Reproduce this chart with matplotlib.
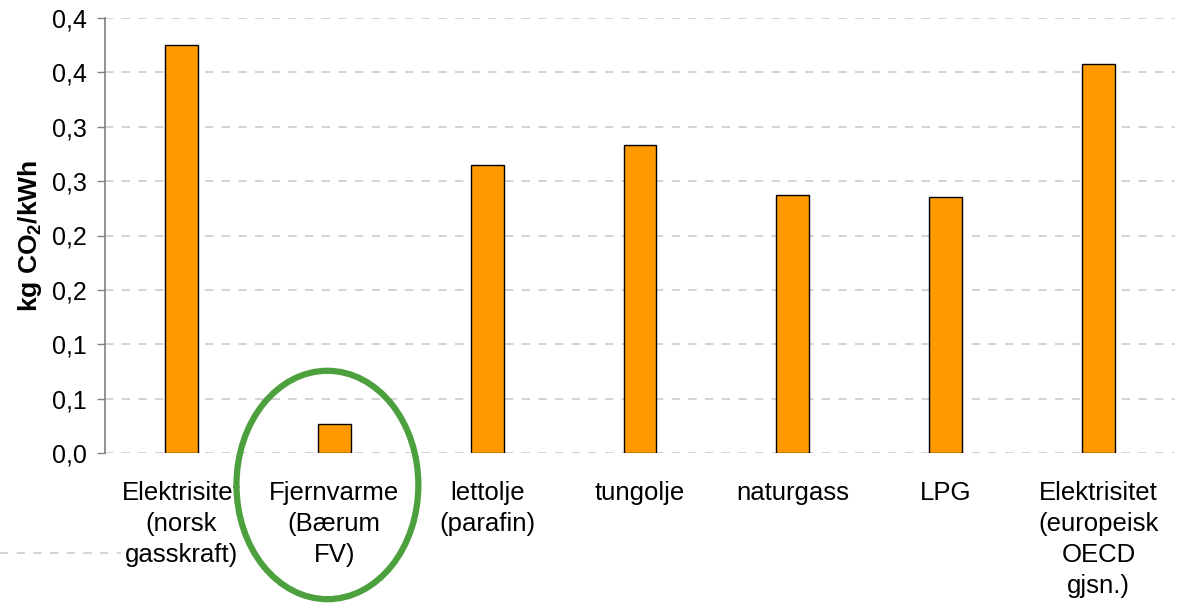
import numpy as np
import matplotlib
matplotlib.use("Agg")
import matplotlib.pyplot as plt
from matplotlib.patches import Ellipse
from matplotlib.lines import Line2D

plt.rcParams['font.family'] = ['Liberation Sans', 'DejaVu Sans']
plt.rcParams['mathtext.fontset'] = 'custom'
plt.rcParams['mathtext.rm'] = 'Liberation Sans'
plt.rcParams['mathtext.bf'] = 'Liberation Sans:bold'

# data
categories = ["Elektrisitet\n(norsk\ngasskraft)", "Fjernvarme\n(Bærum\nFV)",
              "lettolje\n(parafin)", "tungolje", "naturgass", "LPG",
              "Elektrisitet\n(europeisk\nOECD\ngjsn.)"]
values = [0.375, 0.027, 0.265, 0.283, 0.237, 0.235, 0.358]
yticks = [0.0, 0.05, 0.10, 0.15, 0.20, 0.25, 0.30, 0.35, 0.40]
ytick_labels = ["0,0", "0,1", "0,1", "0,2", "0,2", "0,3", "0,3", "0,4", "0,4"]

fig = plt.figure(figsize=(11.79, 6.07), dpi=100)
ax = fig.add_axes([105/1179, 154/607, 1070/1179, 435/607])

x = np.arange(len(categories))
ax.bar(x, values, width=0.215, color='#FF9900', edgecolor='black', linewidth=1.0, zorder=3)

ax.set_xlim(-0.5, len(categories) - 0.5)
ax.set_ylim(0, 0.4)
ax.set_yticks(yticks)
ax.set_yticklabels(ytick_labels, fontsize=18)
ax.set_xticks(x)
ax.set_xticklabels(categories, fontsize=18.5, linespacing=1.38,
                   bbox=dict(facecolor='white', edgecolor='none', pad=0.5))
ax.tick_params(axis='x', length=0, pad=20)
ax.tick_params(axis='y', length=6, width=1.0, color='#808080', pad=7)

for s in ['top', 'right', 'bottom']:
    ax.spines[s].set_visible(False)
ax.spines['left'].set_color('#808080')
ax.spines['left'].set_linewidth(1.2)

ax.yaxis.grid(True, color='#cccccc', linestyle=(0, (5, 5)), linewidth=1.2, zorder=0)
ax.set_axisbelow(True)

ax.set_ylabel(r'kg CO$\mathbf{_2}$/kWh', fontsize=19, fontweight='bold', labelpad=6)

# stray dashed line bottom left
ax.add_line(Line2D([0, 245/1179], [54/607, 54/607], transform=fig.transFigure,
                   color='#cccccc', linestyle=(0, (5, 5)), linewidth=1.2,
                   clip_on=False, zorder=0))

# green ellipse around Fjernvarme
ell = Ellipse((0.955, -0.0294), width=1.19, height=0.21, fill=False,
              edgecolor='#4CA03E', linewidth=4.5, clip_on=False, zorder=10)
ax.add_patch(ell)

fig.savefig("out.png", dpi=100)
